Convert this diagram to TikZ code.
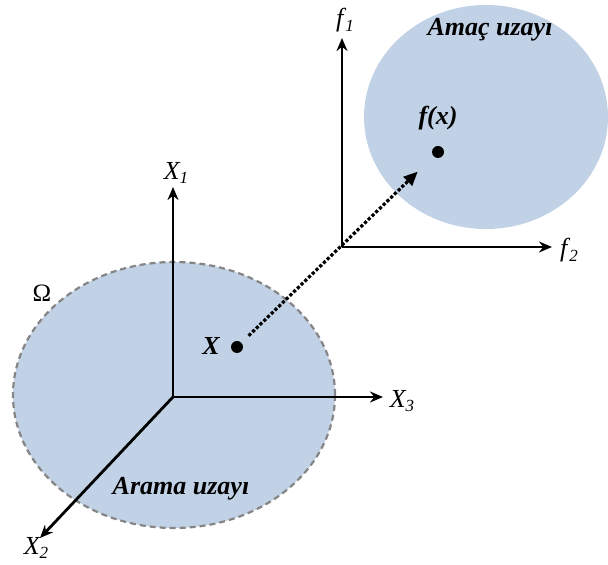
\documentclass[tikz,border=0pt]{standalone}
\usepackage{fontspec}
\setmainfont{Liberation Serif}
\usepackage{tikz}
\usetikzlibrary{arrows.meta, positioning}

\definecolor{spacefill}{RGB}{194,210,230}
\newcommand{\axlab}[2]{\textit{#1}\kern-1pt\raisebox{-0.4ex}{\fontsize{17}{17}\selectfont\textit{#2}}}

\begin{document}
\begin{tikzpicture}[
  x=1pt, y=1pt,
  space/.style={fill=spacefill},
  axis/.style={-{Stealth[length=13pt, width=11pt]}, line width=2.8pt},
  lbl/.style={font=\fontsize{26}{28}\selectfont, inner sep=1pt},
  tag/.style={font=\fontsize{26}{28}\selectfont\bfseries\itshape, inner sep=1pt},
  pt/.style={circle, fill=black, inner sep=0pt, minimum size=12pt},
  map/.style={-{Triangle[length=14pt, width=12pt]}, line width=3.2pt, dotted}
]
\useasboundingbox (0,0) rectangle (608,565);
\fill[space, draw=black!48, dash pattern=on 6pt off 4pt, line width=2.2pt] (174,170) ellipse [x radius=161, y radius=133];
\fill[space] (486,448) ellipse [x radius=122, y radius=112];

\coordinate (o) at (173,168);
\coordinate (x1) at (173,378);
\coordinate (x3) at (383,168);
\coordinate (x2) at (40,27);
\coordinate (of) at (342,318);
\coordinate (f1) at (342,527);
\coordinate (f2) at (552,318);

\node[pt] (xp) at (237,218) {};
\node[pt] (fp) at (438,413) {};

\node[lbl] (lx1) at (176,392) {\axlab{X}{1}};
\node[lbl] (lx3) at (402,164) {\axlab{X}{3}};
\node[lbl] (lx2) at (36,17) {\axlab{X}{2}};
\node[lbl] (lf1) at (345,545) {\axlab{f}{1}};
\node[lbl] (lf2) at (569,315) {\axlab{f}{2}};
\node[tag] (lx) at (211,219) {X};
\node[tag] (lfx) at (438,447) {f(x)};
\node[lbl, font=\fontsize{25}{27}\selectfont] (om) at (42,272) {Ω};
\node[tag] (arama) at (181,76) {Arama uzayı};
\node[tag] (amac) at (490,535) {Amaç uzayı};

\draw[axis] (o) -- (x1);
\draw[axis] (o) -- (x3);
\draw[axis] (o) -- (x2);
\draw[axis] (of) -- (f1);
\draw[axis] (of) -- (f2);
\draw[map, shorten <=10pt, shorten >=22pt] (xp) -- (fp);
\end{tikzpicture}
\end{document}
